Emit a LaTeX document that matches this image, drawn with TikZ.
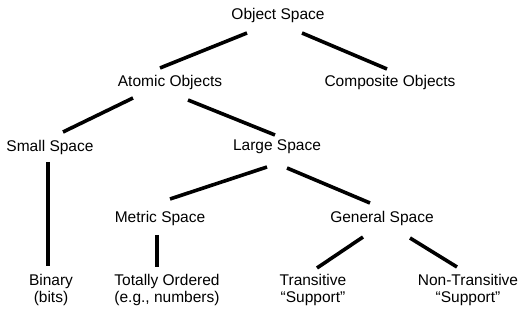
\documentclass[tikz,border=0pt]{standalone}
\usepackage{fontspec}
\setmainfont{Liberation Sans}
\usetikzlibrary{calc}
\tikzset{
  lbl/.style={inner sep=2pt, align=center, font=\fontsize{15.5}{16.5}\selectfont},
  link/.style={line width=3.6pt}
}
\begin{document}
\begin{tikzpicture}[x=1pt,y=-1pt]
    \useasboundingbox (0,0) rectangle (530,320);
    % nodes of the tree
    \node[lbl] (os) at (278,15) {Object Space};
    \node[lbl] (ao) at (170,82) {Atomic Objects}; \node[lbl] (co) at (390,82) {Composite Objects};
    \node[lbl] (ss) at (50,147) {Small Space}; \node[lbl] (ls) at (277,147) {Large Space};
    \node[lbl] (ms) at (160,218) {Metric Space}; \node[lbl] (gs) at (382,218) {General Space};
    \node[lbl] (bin) at (51,290) {Binary\\(bits)};
    \node[lbl] (to) at (167,290) {Totally Ordered\\(e.g., numbers)};
    \node[lbl] (tr) at (313,290) {Transitive\\``Support''};
    \node[lbl] (nt) at (468,290) {Non-Transitive\\``Support''};
    % branches
    \draw[link] ($(os)+(-31,18)$) -- ($(ao)+(-10,-14)$);
    \draw[link] ($(os)+(24,18)$) -- ($(co)+(-3,-13)$);
    \draw[link] ($(ao)+(-37,16)$) -- ($(ss)+(13,-15)$);
    \draw[link] ($(ao)+(18,18)$) -- ($(ls)+(-2,-12)$);
    \draw[link] ($(ss)+(-2,15)$) -- ($(bin)+(-3,-24)$);
    \draw[link] ($(ls)+(-10,20)$) -- ($(ms)+(10,-19)$);
    \draw[link] ($(ls)+(10,21)$) -- ($(gs)+(-12,-15)$);
    \draw[link] ($(ms)+(-3,17)$) -- ($(to)+(-10,-23)$);
    \draw[link] ($(gs)+(-19,19)$) -- ($(tr)+(4,-22)$);
    \draw[link] ($(gs)+(28,20)$) -- ($(nt)+(-11,-23)$);
  \end{tikzpicture}
\end{document}
